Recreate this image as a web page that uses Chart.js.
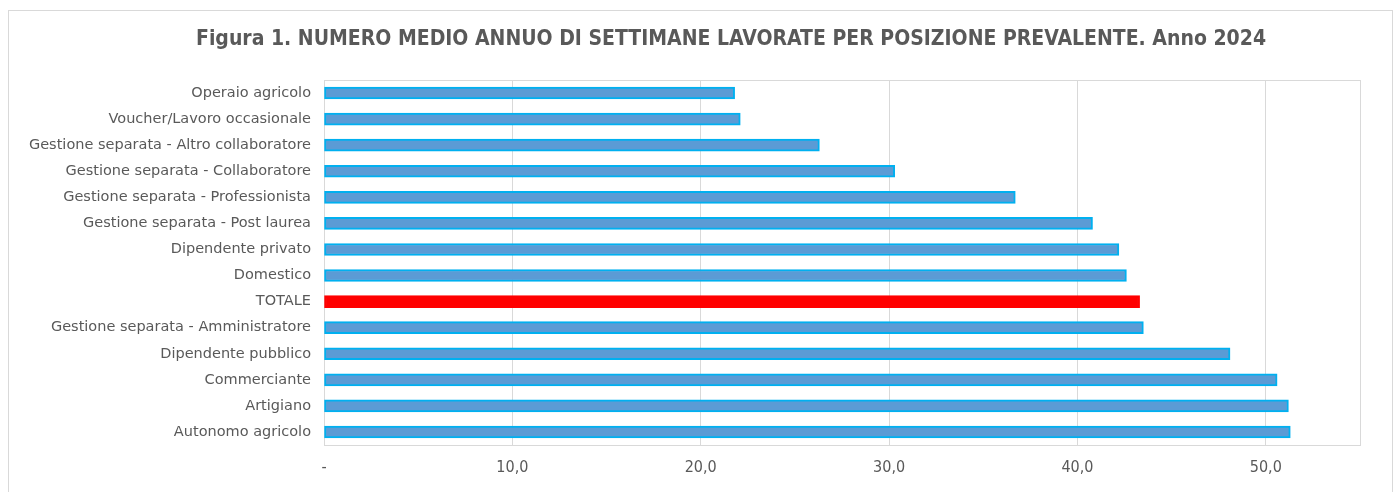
<!DOCTYPE html>
<html>
<head>
<meta charset="utf-8">
<script src="https://cdn.jsdelivr.net/npm/chart.js@4/dist/chart.umd.min.js"></script>
<style>
  html, body { margin: 0; padding: 0; background: #fff; }
  #wrap { position: relative; width: 1399px; height: 492px; }
  #frame { position: absolute; left: 8px; top: 10px; width: 1385px; height: 490px; border: 1px solid #d9d9d9; box-sizing: border-box; }
  canvas { position: absolute; left: 0; top: 0; }
</style>
</head>
<body>
<div id="wrap">
  <div id="frame"></div>
  <canvas id="c" width="1399" height="492"></canvas>
</div>
<script>
const titleText = 'Figura 1. NUMERO MEDIO ANNUO DI SETTIMANE LAVORATE PER POSIZIONE PREVALENTE. Anno 2024';
const categories = [
  'Operaio agricolo',
  'Voucher/Lavoro occasionale',
  'Gestione separata - Altro collaboratore',
  'Gestione separata - Collaboratore',
  'Gestione separata - Professionista',
  'Gestione separata - Post laurea',
  'Dipendente privato',
  'Domestico',
  'TOTALE',
  'Gestione separata - Amministratore',
  'Dipendente pubblico',
  'Commerciante',
  'Artigiano',
  'Autonomo agricolo'
];
const weeks = [21.8, 22.1, 26.3, 30.3, 36.7, 40.8, 42.2, 42.6, 43.3, 43.5, 48.1, 50.6, 51.2, 51.3];
const xTicks = [0, 10, 20, 30, 40, 50];
const highlight = 'TOTALE';

const textColor = '#595959';
const fills = categories.map(c => c === highlight ? '#FF0000' : '#5B9BD5');
const borders = categories.map(c => c === highlight ? '#FF0000' : '#00B0F0');

const areaFrame = {
  id: 'areaFrame',
  beforeDatasetsDraw(chart) {
    const a = chart.chartArea, ctx = chart.ctx;
    ctx.save();
    ctx.strokeStyle = '#d9d9d9';
    ctx.lineWidth = 1;
    ctx.strokeRect(Math.round(a.left) + 0.5, Math.round(a.top) + 0.5, Math.round(a.right - a.left), Math.round(a.bottom - a.top));
    ctx.restore();
  }
};

const chartTitle = {
  id: 'chartTitle',
  afterDraw(chart) {
    const ctx = chart.ctx;
    ctx.save();
    ctx.fillStyle = textColor;
    ctx.font = 'bold 21px "DejaVu Sans Condensed"';
    ctx.textAlign = 'center';
    ctx.textBaseline = 'middle';
    ctx.fillText(titleText, 731, 40);
    ctx.restore();
  }
};

new Chart(document.getElementById('c'), {
  type: 'bar',
  data: {
    labels: categories,
    datasets: [{
      data: weeks,
      backgroundColor: fills,
      borderColor: borders,
      borderWidth: 2,
      borderSkipped: false,
      barThickness: 12
    }]
  },
  plugins: [areaFrame, chartTitle],
  options: {
    indexAxis: 'y',
    responsive: false,
    animation: false,
    devicePixelRatio: 1,
    layout: { padding: { left: 0, right: 39, top: 80, bottom: 0 } },
    plugins: {
      legend: { display: false },
      tooltip: { enabled: false },
      title: { display: false }
    },
    scales: {
      x: {
        min: 0,
        max: 55,
        afterBuildTicks(scale) { scale.ticks = xTicks.map(v => ({ value: v })); },
        afterFit(scale) { scale.height = 47; },
        grid: { color: '#d9d9d9', drawTicks: false },
        border: { display: false },
        ticks: {
          color: textColor,
          padding: 13,
          font: { family: 'DejaVu Sans Condensed', size: 16 },
          callback: v => v === 0 ? '-' : v.toFixed(1).replace('.', ',')
        }
      },
      y: {
        afterFit(scale) { scale.width = 324; },
        grid: { display: false, drawTicks: false },
        border: { display: false },
        ticks: {
          color: textColor,
          padding: 13,
          font: { family: 'DejaVu Sans', size: 14.5 }
        }
      }
    }
  }
});
</script>
</body>
</html>
